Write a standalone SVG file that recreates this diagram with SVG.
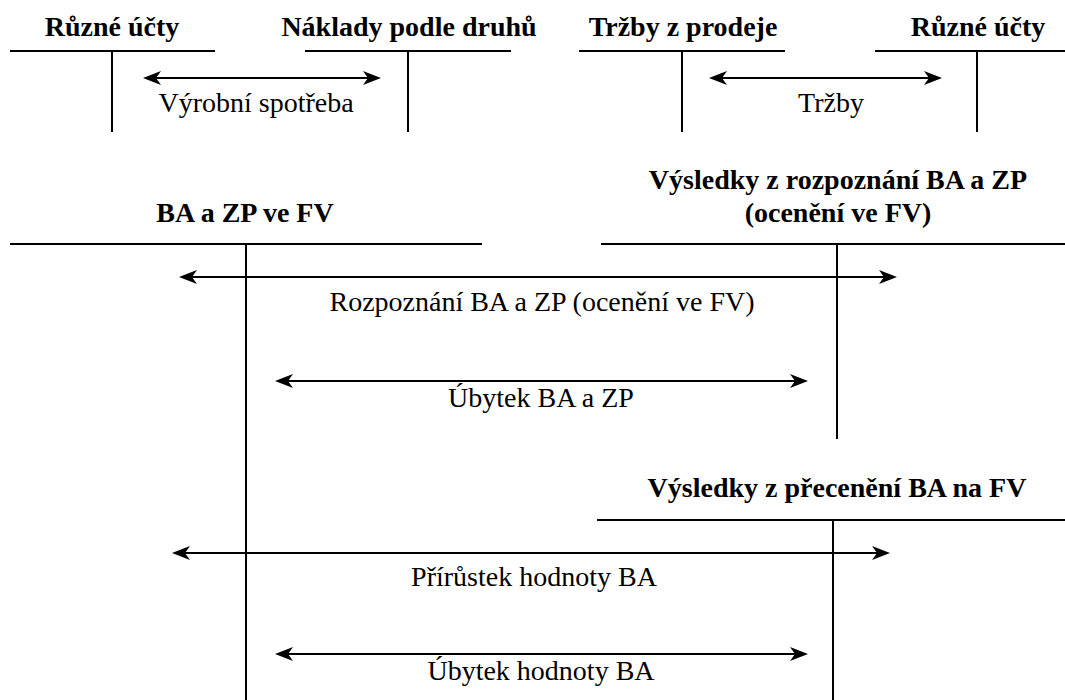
<svg xmlns="http://www.w3.org/2000/svg" width="1065" height="700" viewBox="0 0 1065 700">
<style>
.t{font-family:'Liberation Serif','Times New Roman',serif;font-size:28px;fill:#000;text-anchor:middle}
.b{font-weight:bold}
.ln{stroke:#000;stroke-width:2;fill:none}
.ar{stroke:#000;stroke-width:2;fill:none;marker-start:url(#ah);marker-end:url(#ah)}
</style>
<defs>
<marker id="ah" viewBox="0 0 18 14" refX="14" refY="7" markerWidth="18" markerHeight="14" markerUnits="userSpaceOnUse" orient="auto-start-reverse">
<path d="M0,0 L18,7 L0,14 L5,7 Z" fill="#000"/>
</marker>
</defs>
<rect width="1065" height="700" fill="#fff"/>
<g id="ucet-ruzne-1">
<text class="t b" x="112" y="36">Různé účty</text>
<line class="ln" x1="10" y1="51" x2="215" y2="51"/>
<line class="ln" x1="112" y1="51" x2="112" y2="132"/>
</g>
<g id="ucet-naklady">
<text class="t b" x="409" y="36">Náklady podle druhů</text>
<line class="ln" x1="305" y1="51" x2="511" y2="51"/>
<line class="ln" x1="408" y1="51" x2="408" y2="132"/>
</g>
<g id="ucet-trzby">
<text class="t b" x="683" y="36">Tržby z prodeje</text>
<line class="ln" x1="579" y1="51" x2="785" y2="51"/>
<line class="ln" x1="682" y1="51" x2="682" y2="132"/>
</g>
<g id="ucet-ruzne-2">
<text class="t b" x="978" y="36">Různé účty</text>
<line class="ln" x1="875" y1="51" x2="1065" y2="51"/>
<line class="ln" x1="977" y1="51" x2="977" y2="132"/>
</g>
<g id="ucet-ba-zp">
<text class="t b" x="245" y="222">BA a ZP ve FV</text>
<line class="ln" x1="10" y1="244" x2="482" y2="244"/>
<line class="ln" x1="246" y1="244" x2="246" y2="700"/>
</g>
<g id="ucet-vysledky-rozpoznani">
<text class="t b" x="838" y="189">Výsledky z rozpoznání BA a ZP</text>
<text class="t b" x="838" y="222">(ocenění ve FV)</text>
<line class="ln" x1="601" y1="244" x2="1065" y2="244"/>
<line class="ln" x1="837" y1="244" x2="837" y2="439"/>
</g>
<g id="ucet-vysledky-preceneni">
<text class="t b" x="837" y="497">Výsledky z přecenění BA na FV</text>
<line class="ln" x1="597" y1="520" x2="1065" y2="520"/>
<line class="ln" x1="833" y1="520" x2="833" y2="700"/>
</g>
<g id="connectors">
<line class="ar" x1="147" y1="78" x2="377" y2="78"/>
<text class="t" x="256" y="112">Výrobní spotřeba</text>
<line class="ar" x1="713" y1="78" x2="938" y2="78"/>
<text class="t" x="831" y="112">Tržby</text>
<line class="ar" x1="183" y1="277" x2="893" y2="277"/>
<text class="t" x="542" y="311">Rozpoznání BA a ZP (ocenění ve FV)</text>
<line class="ar" x1="279" y1="381" x2="804" y2="381"/>
<text class="t" x="541" y="407">Úbytek BA a ZP</text>
<line class="ar" x1="176" y1="553" x2="886" y2="553"/>
<text class="t" x="534" y="586">Přírůstek hodnoty BA</text>
<line class="ar" x1="279" y1="654" x2="804" y2="654"/>
<text class="t" x="541" y="680">Úbytek hodnoty BA</text>
</g>
</svg>
